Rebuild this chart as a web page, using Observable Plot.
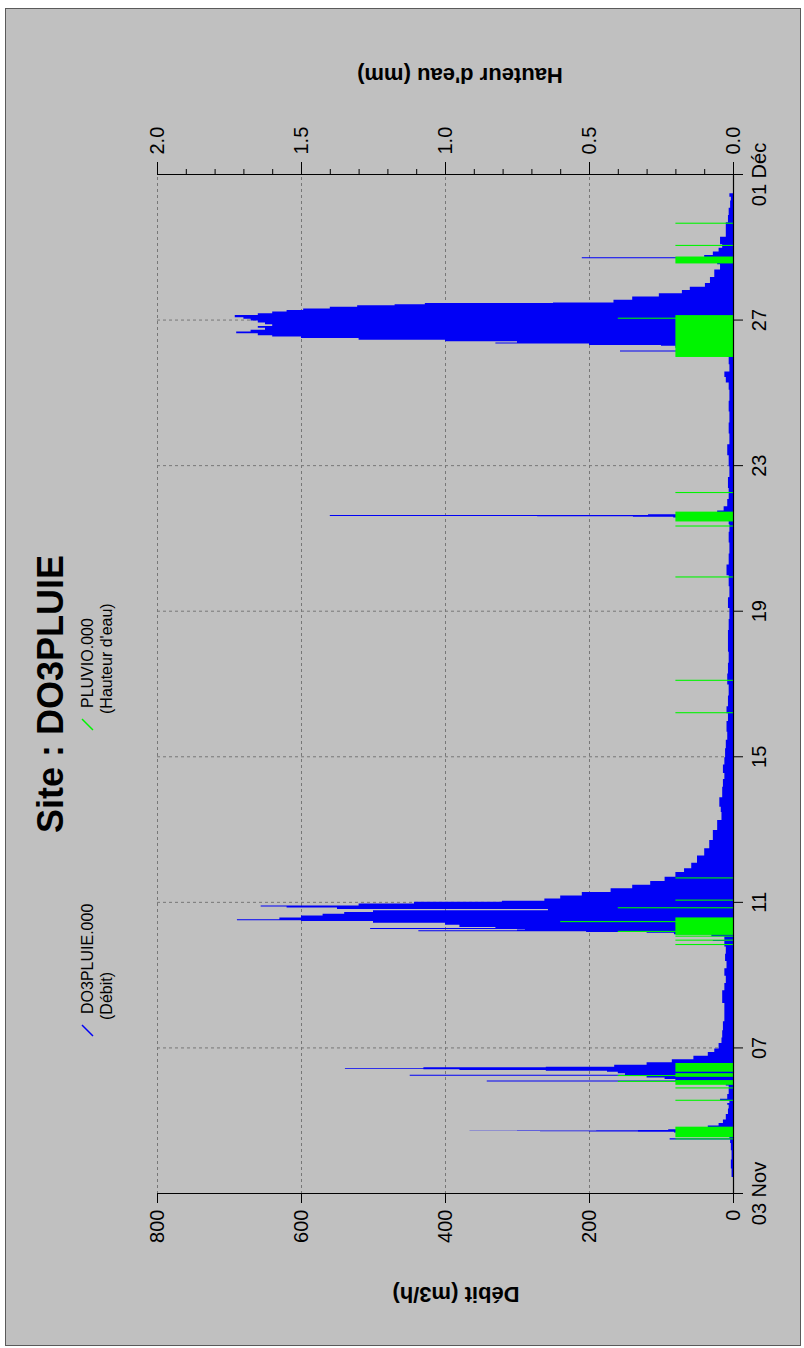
<!DOCTYPE html>
<html>
<head>
<meta charset="utf-8">
<script src="https://cdn.jsdelivr.net/npm/d3@7"></script>
<script src="https://cdn.jsdelivr.net/npm/@observablehq/plot@0.6"></script>
<style>
  html, body { margin: 0; padding: 0; background: #ffffff; }
  #stage {
    position: absolute; left: 0; top: 0; width: 1348px; height: 804px;
    transform-origin: 0 0; transform: translate(0px, 1348px) rotate(-90deg);
    font-family: "Liberation Sans", Arial, sans-serif;
  }
  #panel {
    position: absolute; left: 2px; top: 5px; width: 1338px; height: 796px;
    background: #c0c0c0; border: 1px solid #5a5a5a; box-sizing: border-box;
  }
  #chart, #overlay { position: absolute; left: 0; top: 0; }
</style>
</head>
<body>
<div id="stage">
  <div id="panel"></div>
  <div id="chart"></div>
  <svg id="overlay" width="1348" height="804"></svg>
</div>
<script>
// ---- Data ----
// Time as days since 03 Nov 00:00
const debitJour = [
  0.47, 0.70, 0.95, 1.20, 1.40, 1.50, 1.53, 1.60, 1.66, 1.69, 1.71, 1.72, 1.725, 1.73, 1.74, 1.745, 1.75, 1.76, 1.78, 1.82, 1.88, 1.95,
  2.05, 2.20, 2.35, 2.45, 2.50, 2.57, 2.62, 2.75, 2.90, 2.98, 3.03, 3.06, 3.09, 3.12, 3.16, 3.20, 3.25, 3.28, 3.32, 3.36, 3.39, 3.41,
  3.43, 3.44, 3.46, 3.48, 3.50, 3.55, 3.62, 3.70, 3.80, 3.90, 4.00, 4.15, 4.30, 4.50, 4.75, 5.00, 5.25, 5.42, 5.60, 5.80, 6.00, 6.20,
  6.40, 6.60, 6.80, 6.95, 6.98, 7.08, 7.14, 7.18, 7.20, 7.22, 7.25, 7.27, 7.28, 7.31, 7.34, 7.40, 7.45, 7.50, 7.52, 7.55, 7.60, 7.65,
  7.70, 7.75, 7.80, 7.83, 7.87, 7.90, 7.93, 7.98, 8.03, 8.06, 8.12, 8.20, 8.30, 8.40, 8.50, 8.60, 8.72, 8.85, 8.95, 9.10, 9.30, 9.50,
  9.73, 10.00, 10.28, 10.50, 10.64, 10.90, 11.19, 11.40, 11.57, 11.80, 12.00, 12.25, 12.48, 12.70, 13.00, 13.21, 13.40, 13.70, 14.00,
  14.30, 14.60, 14.90, 15.20, 15.50, 15.80, 16.10, 16.40, 16.70, 17.00, 17.30, 17.60, 17.90, 18.20, 18.40, 18.55, 18.59, 18.61, 18.62,
  18.63, 18.66, 18.68, 18.70, 18.74, 18.78, 18.90, 19.10, 19.40, 19.70, 20.00, 20.30, 20.60, 20.90, 21.20, 21.50, 21.80, 22.10, 22.30,
  22.45, 22.60, 22.80, 23.00, 23.10, 23.15, 23.18, 23.25, 23.31, 23.33, 23.37, 23.40, 23.43, 23.47, 23.52, 23.56, 23.60, 23.65, 23.70,
  23.75, 23.80, 23.85, 23.90, 23.95, 24.00, 24.05, 24.09, 24.15, 24.20, 24.25, 24.29, 24.33, 24.38, 24.42, 24.45, 24.48, 24.50, 24.57,
  24.66, 24.75, 24.84, 24.93, 25.03, 25.20, 25.40, 25.55, 25.68, 25.71, 25.74, 25.80, 25.90, 26.00, 26.10, 26.30, 26.50, 26.70, 26.90,
  27.10, 27.30, 27.40, 27.50
];
const debitValeur = [
  2, 3, 2, 3, 4, 88, 5, 8, 30, 82, 132, 200, 268, 366, 300, 190, 132, 90, 60, 35, 20, 14,
  10, 7, 6, 8, 5, 18, 8, 6, 6, 10, 40, 60, 342, 80, 95, 120, 449, 150, 160, 175, 260, 380,
  430, 539, 430, 260, 165, 120, 85, 55, 35, 26, 20, 16, 15, 14, 12, 12, 15, 15, 12, 10, 12, 9,
  11, 10, 12, 28, 12, 30, 82, 120, 204, 437, 300, 289, 504, 330, 380, 400, 500, 600, 689, 630, 600, 570,
  540, 500, 257, 550, 620, 656, 520, 443, 321, 262, 240, 210, 170, 140, 115, 95, 80, 68, 58, 50, 40, 33,
  28, 22, 16, 17, 19, 15, 14, 12, 14, 12, 11, 10, 8, 9, 7, 9, 7, 6, 8,
  7, 6, 7, 7, 6, 5, 7, 5, 6, 9, 6, 5, 6, 5, 6, 10, 83, 139, 272,
  560, 118, 60, 36, 22, 13, 8, 6, 7, 5, 6, 8, 5, 6, 5, 6, 5, 6, 10,
  12, 5, 6, 8, 20, 157, 60, 80, 100, 200, 330, 300, 400, 520, 600, 640, 660, 690, 670,
  650, 660, 640, 650, 660, 670, 680, 692, 660, 640, 620, 597, 560, 522, 470, 428, 250, 166, 140,
  103, 71, 60, 39, 32, 26, 18, 22, 60, 210, 40, 28, 20, 15, 18, 10, 10, 7, 6,
  4, 3, 5, 3
];
// Rain gauge (Hauteur d'eau, mm): start / end (days since 03 Nov) and height
const pluieDebut = [1.50, 1.56, 2.56, 2.90, 3.00, 3.08, 3.22, 3.24, 3.36, 6.84, 6.96, 7.07, 7.12, 7.20, 7.47, 7.85, 8.06, 8.67,
  13.21, 14.10, 16.94, 18.34, 18.48, 19.26, 23.00, 24.05, 25.57, 26.05, 26.66];
const pluieFin   = [1.53, 1.85, 2.59, 2.93, 3.13, 3.11, 3.32, 3.27, 3.60, 6.87, 6.99, 7.10, 7.60, 7.23, 7.50, 7.88, 8.09, 8.70,
  13.24, 14.13, 16.97, 18.37, 18.75, 19.29, 24.15, 24.08, 25.76, 26.08, 26.69];
const pluieMm    = [0.2, 0.2, 0.2, 0.2, 0.2, 0.4, 0.2, 0.4, 0.2, 0.2, 0.2, 0.2, 0.2, 0.4, 0.6, 0.4, 0.2, 0.2,
  0.2, 0.2, 0.2, 0.2, 0.2, 0.2, 0.2, 0.4, 0.2, 0.2, 0.2];

const dateTickJour = [0, 4, 8, 12, 16, 20, 24, 28];
const dateTickLabel = ["03 Nov", "07", "11", "15", "19", "23", "27", "01 Déc"];
const debitTicks = [0, 200, 400, 600, 800];
const hauteurTicks = [0.0, 0.5, 1.0, 1.5, 2.0];
const hauteurMinor = [0.1, 0.2, 0.3, 0.4, 0.6, 0.7, 0.8, 0.9, 1.1, 1.2, 1.3, 1.4, 1.6, 1.7, 1.8, 1.9];

// ---- Build ----
const t0 = Date.UTC(2012, 10, 3);
const asDate = t => new Date(t0 + t * 864e5);
const ratio = 800 / 2.0; // Débit units per mm on the shared vertical scale

const debit = debitJour.map((t, i) => ({date: asDate(t), value: debitValeur[i]}));
const pluie = pluieDebut.map((t, i) => ({x1: asDate(t), x2: asDate(pluieFin[i]), y: pluieMm[i] * ratio}));
const dateTicks = dateTickJour.map(asDate);
const labelMap = new Map(dateTicks.map((d, i) => [+d, dateTickLabel[i]]));

const blue = "#0000f6";
const green = "#00f400";
const gridStyle = {stroke: "#777777", strokeOpacity: 1, strokeWidth: 1, strokeDasharray: "3,3"};

const chart = Plot.plot({
  width: 1348, height: 804,
  marginLeft: 154, marginRight: 175, marginTop: 157, marginBottom: 71,
  style: {background: "transparent", fontFamily: "'Liberation Sans', Arial, sans-serif", color: "#000"},
  x: {type: "utc", domain: [asDate(0), asDate(28)]},
  y: {domain: [0, 800]},
  marks: [
    Plot.gridX(dateTicks.slice(1, -1), gridStyle),
    Plot.gridY([200, 400, 600, 800], gridStyle),
    Plot.areaY(debit, {x: "date", y: "value", curve: "step-after", fill: blue}),
    Plot.rectY(pluie, {x1: "x1", x2: "x2", y1: 0, y2: "y", fill: green}),
    Plot.ruleY([0], {stroke: "#000", strokeWidth: 1.2}),
    Plot.ruleX([asDate(0), asDate(28)], {stroke: "#000", strokeWidth: 1.2}),
    Plot.axisX({ticks: dateTicks, tickFormat: d => labelMap.get(+d), tickSize: 10, tickPadding: 8, fontSize: 20, label: null, stroke: "#000"}),
    Plot.axisY({anchor: "left", ticks: debitTicks, tickSize: 9, tickPadding: 7, fontSize: 20, label: null}),
    Plot.axisY({anchor: "right", ticks: hauteurTicks.map(h => h * ratio), tickFormat: d => (d / ratio).toFixed(1), tickSize: 12, tickPadding: 8, fontSize: 20, label: null}),
    Plot.axisY({anchor: "right", ticks: hauteurMinor.map(h => h * ratio), tickFormat: () => "", tickSize: 5, label: null})
  ]
});
document.getElementById("chart").appendChild(chart);

// ---- Title, legend, axis titles ----
const ov = d3.select("#overlay").style("font-family", "'Liberation Sans', Arial, sans-serif");
ov.append("text").attr("x", 515).attr("y", 63).attr("text-anchor", "start")
  .attr("font-size", 36).attr("font-weight", "bold").attr("fill", "#000").text("Site :  DO3PLUIE");

const legend = [
  {name: "DO3PLUIE.000", sub: "(Débit)", color: blue, x: 312},
  {name: "PLUVIO.000", sub: "(Hauteur d'eau)", color: green, x: 618}
];
legend.forEach(l => {
  ov.append("line").attr("x1", l.x).attr("y1", 93).attr("x2", l.x + 11).attr("y2", 82)
    .attr("stroke", l.color).attr("stroke-width", 1.5);
  ov.append("text").attr("x", l.x + 22).attr("y", 93).attr("font-size", 16).attr("fill", "#000").text(l.name);
  ov.append("text").attr("x", l.x + 16).attr("y", 112).attr("font-size", 16).attr("fill", "#000").text(l.sub);
});

ov.append("text").attr("transform", "translate(61,456) rotate(-90)").attr("text-anchor", "middle")
  .attr("font-size", 22).attr("font-weight", "bold").attr("fill", "#000").text("Débit  (m3/h)");
ov.append("text").attr("transform", "translate(1280,460) rotate(-90)").attr("text-anchor", "middle")
  .attr("font-size", 22).attr("font-weight", "bold").attr("fill", "#000").text("Hauteur d'eau  (mm)");
</script>
</body>
</html>
